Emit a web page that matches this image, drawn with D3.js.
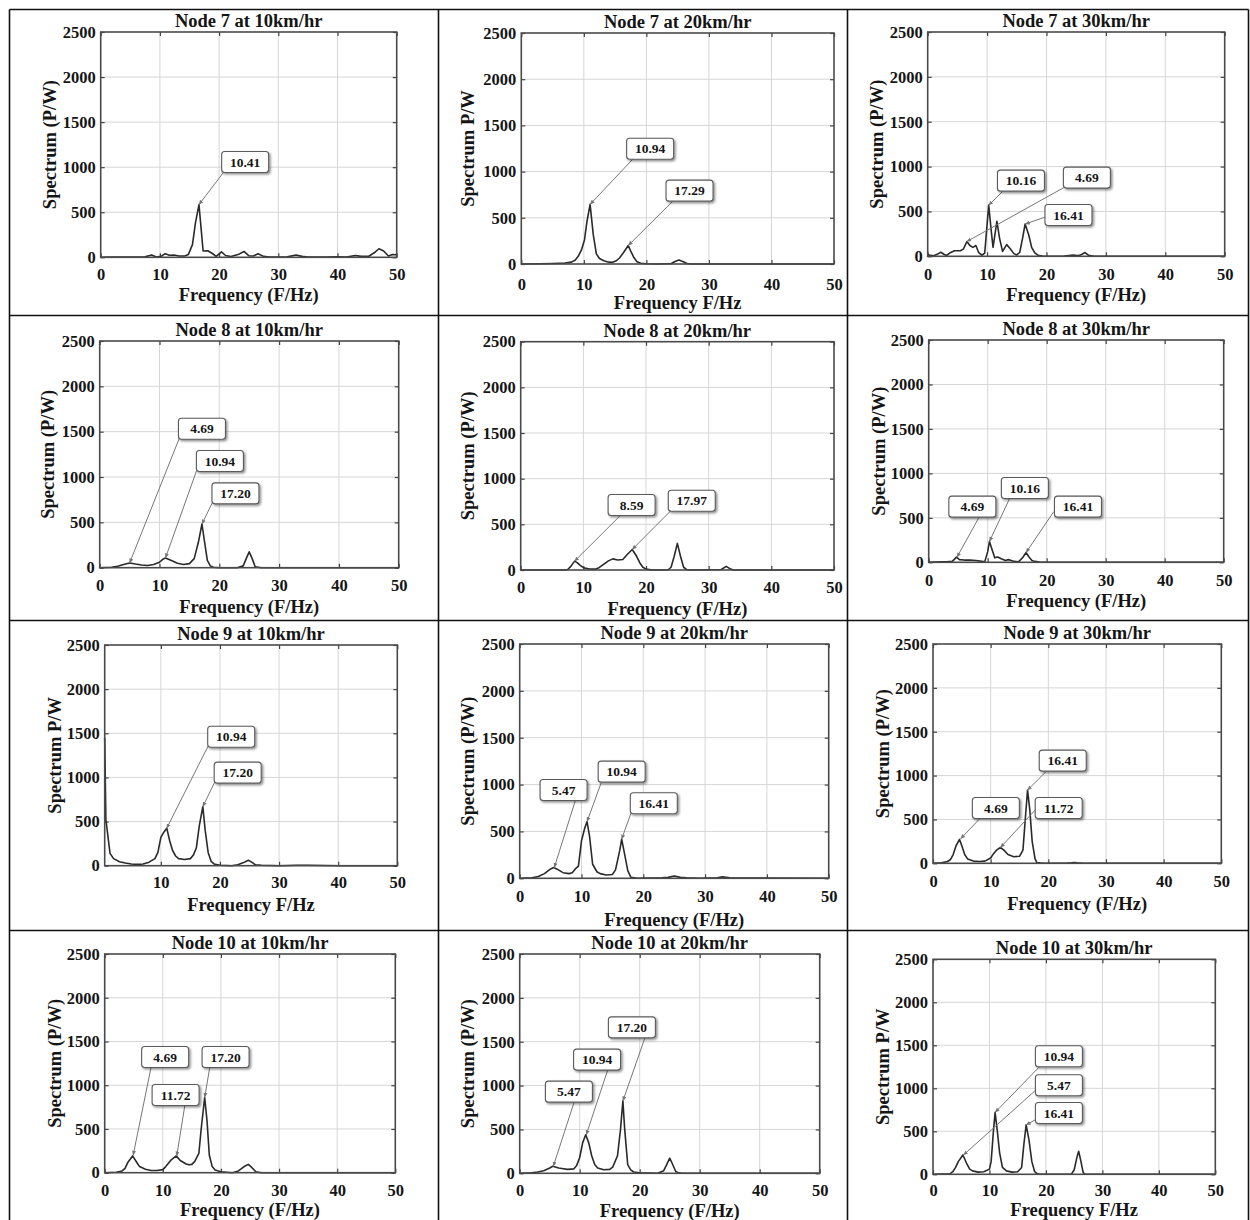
<!DOCTYPE html>
<html>
<head>
<meta charset="utf-8">
<script src="https://cdn.jsdelivr.net/npm/d3@7"></script>
<style>
  body { margin: 0; background: #fff; }
  svg text { font-family: "Liberation Serif", "Times New Roman", serif; font-weight: bold; fill: #151515; }
</style>
</head>
<body>
<svg id="fig" width="1250" height="1220"></svg>
<script>
// ---- categories and axis ticks ----
const nodes = ["Node 7", "Node 8", "Node 9", "Node 10"];
const speeds = ["10km/hr", "20km/hr", "30km/hr"];
const freqTicks = [0, 10, 20, 30, 40, 50];
const powerTicks = [0, 500, 1000, 1500, 2000, 2500];

const yTitles = [
  "Spectrum (P/W)", "Spectrum P/W", "Spectrum (P/W)",
  "Spectrum (P/W)", "Spectrum (P/W)", "Spectrum (P/W)",
  "Spectrum P/W", "Spectrum (P/W)", "Spectrum (P/W)",
  "Spectrum (P/W)", "Spectrum (P/W)", "Spectrum P/W"
];
const xTitles = [
  "Frequency (F/Hz)", "Frequency F/Hz", "Frequency (F/Hz)",
  "Frequency (F/Hz)", "Frequency (F/Hz)", "Frequency (F/Hz)",
  "Frequency F/Hz", "Frequency (F/Hz)", "Frequency (F/Hz)",
  "Frequency (F/Hz)", "Frequency (F/Hz)", "Frequency F/Hz"
];

// ---- spectra: [frequency Hz, spectrum P/W] ----
const node7_10 = [[0,0],[2,2],[4,3],[6,2],[7.5,5],[8.6,25],[9.4,3],[10.2,10],[10.9,40],[11.6,22],[12.4,25],[13.2,15],[14.2,15],[14.8,30],[15.5,140],[16.0,380],[16.6,585],[17.3,70],[18.1,72],[18.8,45],[19.5,10],[20.4,60],[21.1,20],[22.0,8],[23.2,30],[24.2,65],[25.0,18],[25.8,15],[26.6,40],[27.5,10],[28.5,3],[30,2],[31.5,5],[33,25],[34,10],[35,3],[38,2],[40,5],[41.5,2],[43,20],[44,10],[45.3,12],[46.2,50],[47,95],[47.8,70],[48.6,15],[49.3,30],[50,28]];
const node7_20 = [[0,0],[3,2],[5,5],[7,10],[8,20],[8.6,40],[9.1,83],[9.6,150],[10.1,260],[10.5,460],[11.0,645],[11.5,320],[12.0,110],[12.5,60],[13.2,35],[14.0,20],[14.6,18],[15.2,35],[15.7,65],[16.2,110],[16.7,160],[17.1,200],[17.5,140],[18.0,70],[18.5,25],[19.1,8],[20,2],[22,0],[24,5],[24.5,25],[25.2,42],[25.9,25],[26.5,5],[27.2,0],[35,0],[50,0]];
const node7_30 = [[0,20],[0.5,10],[1,5],[1.6,22],[2.2,45],[2.8,20],[3.2,10],[3.8,40],[4.5,62],[5.5,62],[6.0,80],[6.6,165],[7.1,120],[7.6,100],[8.1,120],[8.6,40],[9.1,12],[9.6,35],[10.27,570],[10.7,280],[11.0,100],[11.65,390],[12.1,200],[12.6,55],[13.3,130],[13.9,85],[14.5,30],[15.0,15],[15.5,45],[16.0,210],[16.4,360],[17.0,240],[17.5,100],[18.0,40],[18.6,10],[19.3,3],[20,0],[23,2],[24.5,15],[25.1,8],[25.6,10],[26.5,42],[27.1,10],[28,0],[50,0]];
const node8_10 = [[0,0],[2,5],[3,15],[4,35],[5,52],[6,40],[7,30],[8,25],[9,35],[10,60],[10.5,90],[11,108],[12,80],[13,50],[14,35],[15,45],[15.8,100],[16.5,280],[17.1,482],[17.5,300],[18,80],[18.5,20],[19,5],[20,0],[23,0],[24,20],[24.5,100],[25,175],[25.5,100],[26,10],[27,0],[50,0]];
const node8_20 = [[0,0],[7,0],[7.5,5],[8,40],[8.6,97],[9,80],[9.5,50],[10,25],[11,10],[12,10],[12.5,25],[13,50],[14,100],[14.7,122],[15.5,110],[16.3,115],[17,170],[17.8,225],[18.5,150],[19,80],[19.5,30],[20,10],[21,0],[23.5,0],[24,30],[24.5,150],[25,292],[25.5,150],[26,30],[26.5,5],[27,0],[32,5],[32.8,40],[33.5,10],[34,0],[50,0]];
const node8_30 = [[0,0],[2,5],[3,5],[4,10],[4.3,30],[4.7,58],[5.2,30],[6,25],[7,25],[8,20],[9,10],[9.5,5],[10,120],[10.3,235],[10.8,130],[11.2,50],[11.7,60],[12.3,40],[13,20],[13.5,30],[14,20],[14.5,10],[15.2,5],[15.6,30],[16,60],[16.5,110],[17,60],[17.5,20],[18,10],[19,0],[50,0]];
const node9_10 = [[0.5,1450],[0.7,520],[1.0,360],[1.4,140],[2,80],[3,45],[4,30],[5,20],[6,15],[7,20],[8,40],[9,80],[9.5,150],[10,320],[10.5,380],[11,425],[11.5,280],[12,170],[12.5,110],[13,80],[14,70],[15,80],[15.5,120],[16,200],[16.5,450],[17.1,670],[17.5,400],[18,150],[18.5,50],[19,20],[20,5],[22,0],[23,10],[24,35],[24.8,62],[25.5,35],[26,10],[27,5],[30,0],[33,5],[35,5],[40,0],[50,0]];
const node9_20 = [[0,0],[2,5],[3,20],[4,50],[5,100],[5.5,115],[6,100],[7,60],[8,50],[8.5,60],[9,100],[9.5,130],[10,400],[10.5,530],[10.9,605],[11.3,450],[11.8,150],[12.5,70],[13,50],[14,35],[15,40],[15.5,90],[16.2,300],[16.5,418],[17,250],[17.5,80],[18,10],[19,0],[23,5],[24,10],[25,25],[26,10],[27,5],[29,0],[32,5],[32.8,15],[34,5],[50,0]];
const node9_30 = [[0,0],[1.5,5],[2.5,20],[3,40],[3.5,100],[4,200],[4.6,272],[5,200],[5.5,100],[6,50],[7,25],[8,20],[9,25],[10,60],[10.5,110],[11,150],[11.7,180],[12.3,150],[13,100],[14,75],[15,80],[15.6,150],[16,500],[16.4,835],[16.8,600],[17.2,250],[17.7,50],[18,10],[19,0],[23,0],[24,5],[24.5,10],[25,5],[26,0],[50,0]];
const node10_10 = [[0,0],[2,5],[3,20],[3.5,50],[4,120],[4.8,192],[5.5,120],[6,70],[7,40],[8,25],[9,25],[10,35],[10.5,70],[11,110],[11.5,150],[12.3,192],[13,140],[14,100],[14.5,90],[15,95],[15.5,130],[16.2,220],[16.6,500],[17.2,860],[17.6,600],[18,200],[18.5,70],[19,30],[20,10],[22,0],[23,20],[24,70],[24.7,95],[25.3,60],[26,10],[27,0],[50,0]];
const node10_20 = [[0,0],[2,5],[3,15],[4,30],[5,60],[5.5,80],[6.5,60],[7,55],[8,45],[9,50],[9.5,90],[10,180],[10.5,350],[11,440],[11.5,350],[12,200],[12.5,100],[13,60],[14,40],[15,45],[15.5,70],[16.3,200],[16.8,500],[17.2,825],[17.5,500],[18,100],[18.5,40],[19,15],[20,5],[23,0],[24,30],[24.5,100],[25,172],[25.5,100],[26,20],[26.5,5],[27,0],[50,0]];
const node10_30 = [[0,0],[3,5],[3.5,30],[4,80],[4.5,150],[5.3,225],[6,120],[6.5,60],[7,40],[8,25],[9,30],[10,60],[10.3,150],[10.7,500],[11,720],[11.4,500],[11.8,250],[12.3,80],[13,40],[14,25],[15,30],[15.7,80],[16.1,350],[16.5,575],[17,400],[17.5,150],[18,30],[18.5,5],[19,0],[24.5,0],[25,50],[25.5,200],[25.8,268],[26.2,150],[26.6,20],[27,0],[50,0]];

// ---- peak callouts: label text and the [frequency, spectrum] point it marks ----
const notes7_10 = [{ text: "10.41", at: [16.6, 585] }];
const notes7_20 = [{ text: "10.94", at: [11.0, 645] }, { text: "17.29", at: [17.1, 200] }];
const notes7_30 = [{ text: "10.16", at: [10.27, 570] }, { text: "4.69", at: [6.6, 165] }, { text: "16.41", at: [16.4, 360] }];
const notes8_10 = [{ text: "4.69", at: [5.0, 52] }, { text: "10.94", at: [11.0, 108] }, { text: "17.20", at: [17.1, 482] }];
const notes8_20 = [{ text: "8.59", at: [8.6, 97] }, { text: "17.97", at: [17.8, 225] }];
const notes8_30 = [{ text: "4.69", at: [4.8, 58] }, { text: "10.16", at: [10.3, 235] }, { text: "16.41", at: [16.5, 110] }];
const notes9_10 = [{ text: "10.94", at: [11.0, 425] }, { text: "17.20", at: [17.1, 670] }];
const notes9_20 = [{ text: "5.47", at: [5.6, 115] }, { text: "10.94", at: [10.9, 605] }, { text: "16.41", at: [16.5, 418] }];
const notes9_30 = [{ text: "16.41", at: [16.4, 835] }, { text: "4.69", at: [4.8, 280] }, { text: "11.72", at: [11.7, 180] }];
const notes10_10 = [{ text: "4.69", at: [4.9, 200] }, { text: "17.20", at: [17.2, 860] }, { text: "11.72", at: [12.4, 192] }];
const notes10_20 = [{ text: "17.20", at: [17.2, 825] }, { text: "10.94", at: [11.1, 440] }, { text: "5.47", at: [5.6, 80] }];
const notes10_30 = [{ text: "10.94", at: [11.0, 720] }, { text: "5.47", at: [5.4, 225] }, { text: "16.41", at: [16.5, 575] }];

// ---- layout ----
// plot frame of each panel in page pixels, plus tick label / axis title placement
const frames = [
  { l: 100.7, t: 32,    r: 396.7,  b: 257.3,  tick: 274.7, xt: 294.7, yt: 49.7 },
  { l: 521.3, t: 33,    r: 834,    b: 264,    tick: 284.7, xt: 303,   yt: 467.3 },
  { l: 927.7, t: 32,    r: 1224.7, b: 256.3,  tick: 274.7, xt: 294.7, yt: 877 },
  { l: 99.7,  t: 341,   r: 398.7,  b: 567.7,  tick: 585,   xt: 606.7, yt: 48 },
  { l: 520.7, t: 341.7, r: 834,    b: 570,    tick: 587.7, xt: 609,   yt: 467.3 },
  { l: 928.7, t: 340,   r: 1223.7, b: 562.3,  tick: 580,   xt: 600.7, yt: 878.7 },
  { l: 104.7, t: 645,   r: 397.3,  b: 865.7,  tick: 882.7, xt: 904.3, yt: 54.7, xmin: 0.5 },
  { l: 519.7, t: 644,   r: 828.7,  b: 878.3,  tick: 896.7, xt: 920,   yt: 467.3 },
  { l: 933,   t: 644,   r: 1221.3, b: 863.3,  tick: 881,   xt: 903.3, yt: 883 },
  { l: 104.7, t: 954,   r: 395.3,  b: 1172.7, tick: 1190,  xt: 1210,  yt: 54.7 },
  { l: 519.7, t: 954,   r: 819.7,  b: 1173.3, tick: 1190,  xt: 1210.7, yt: 467.3 },
  { l: 933,   t: 959.3, r: 1215.3, b: 1174.3, tick: 1190,  xt: 1210,  yt: 883 }
];
// callout box centre and leader start, in axis units of the panel
const calloutPlaces = [
  [{ box: [24.4, 1058], tail: [20.8, 947] }],
  [{ box: [20.6, 1248], tail: [17.9, 1140] }, { box: [26.9, 794], tail: [24.3, 685] }],
  [{ box: [15.7, 843], tail: [12.8, 735] }, { box: [26.8, 877], tail: [22.9, 765] }, { box: [23.7, 461], tail: [19.9, 440] }],
  [{ box: [17.1, 1533], tail: [13.3, 1425] }, { box: [20.1, 1176], tail: [16.2, 1070] }, { box: [22.7, 820], tail: [18.8, 712] }],
  [{ box: [17.7, 712], tail: [15.8, 590] }, { box: [27.3, 759], tail: [24.0, 652] }],
  [{ box: [7.4, 626], tail: [8.6, 515] }, { box: [16.3, 836], tail: [13.8, 730] }, { box: [25.3, 626], tail: [21.2, 570] }],
  [{ box: [21.9, 1461], tail: [18.0, 1356] }, { box: [23.0, 1054], tail: [19.1, 945] }],
  [{ box: [7.1, 942], tail: [9.0, 830] }, { box: [16.5, 1138], tail: [13.2, 1022] }, { box: [21.7, 800], tail: [18.0, 695] }],
  [{ box: [22.5, 1170], tail: [19.8, 1058] }, { box: [10.9, 631], tail: [8.2, 515] }, { box: [21.8, 631], tail: [17.9, 620] }],
  [{ box: [10.4, 1322], tail: [8.0, 1212] }, { box: [20.8, 1322], tail: [18.1, 1212] }, { box: [12.2, 888], tail: [13.8, 774] }],
  [{ box: [18.7, 1664], tail: [20.9, 1550] }, { box: [12.9, 1296], tail: [14.7, 1185] }, { box: [8.2, 931], tail: [9.1, 817] }],
  [{ box: [22.3, 1372], tail: [19.0, 1260] }, { box: [22.3, 1035], tail: [18.3, 985] }, { box: [22.3, 713], tail: [18.3, 640] }]
];

const seriesList = [node7_10, node7_20, node7_30, node8_10, node8_20, node8_30,
                    node9_10, node9_20, node9_30, node10_10, node10_20, node10_30];
const notesList = [notes7_10, notes7_20, notes7_30, notes8_10, notes8_20, notes8_30,
                   notes9_10, notes9_20, notes9_30, notes10_10, notes10_20, notes10_30];

const svg = d3.select("#fig");
const plain = d3.format("d");

// arrowhead used at the end of each callout leader
const defs = svg.append("defs");
defs.append("marker")
  .attr("id", "tipHead")
  .attr("viewBox", "0 0 10 10")
  .attr("refX", 9).attr("refY", 5)
  .attr("markerWidth", 5).attr("markerHeight", 5)
  .attr("orient", "auto")
  .append("path")
  .attr("d", "M0,1 L10,5 L0,9 z")
  .attr("fill", "#777");

// shadow for callout boxes
defs.append("filter").attr("id", "boxShadow")
  .attr("x", "-20%").attr("y", "-20%").attr("width", "150%").attr("height", "160%")
  .append("feDropShadow").attr("dx", 1.5).attr("dy", 1.5).attr("stdDeviation", 1.2)
  .attr("flood-color", "#000").attr("flood-opacity", 0.45);

seriesList.forEach((data, i) => {
  const f = frames[i];
  const row = Math.floor(i / 3), col = i % 3;
  const xmin = f.xmin ?? 0;
  const x = d3.scaleLinear().domain([xmin, 50]).range([f.l, f.r]);
  const y = d3.scaleLinear().domain([0, 2500]).range([f.b, f.t]);
  const xt = freqTicks.filter(v => v >= xmin);
  const g = svg.append("g");

  // grid
  g.append("g").selectAll("line").data(xt.filter(v => v > xmin && v < 50)).join("line")
    .attr("x1", d => x(d)).attr("x2", d => x(d)).attr("y1", f.t).attr("y2", f.b)
    .attr("stroke", "#d6d6d6").attr("stroke-width", 1);
  g.append("g").selectAll("line").data(powerTicks.filter(v => v > 0 && v < 2500)).join("line")
    .attr("x1", f.l).attr("x2", f.r).attr("y1", d => y(d)).attr("y2", d => y(d))
    .attr("stroke", "#d6d6d6").attr("stroke-width", 1);

  // axes with inward ticks on all four sides
  const pad = f.tick - f.b - 6;
  const ax = g.append("g").attr("transform", `translate(0,${f.b})`)
    .call(d3.axisBottom(x).tickValues(xt).tickFormat(plain)
      .tickSizeInner(-4).tickSizeOuter(0).tickPadding(pad));
  const ay = g.append("g").attr("transform", `translate(${f.l},0)`)
    .call(d3.axisLeft(y).tickValues(powerTicks).tickFormat(plain)
      .tickSizeInner(-4).tickSizeOuter(0).tickPadding(5));
  g.append("g").attr("transform", `translate(0,${f.t})`)
    .call(d3.axisTop(x).tickValues(xt).tickSizeInner(-4).tickSizeOuter(0).tickFormat(""));
  g.append("g").attr("transform", `translate(${f.r},0)`)
    .call(d3.axisRight(y).tickValues(powerTicks).tickSizeInner(-4).tickSizeOuter(0).tickFormat(""));
  g.selectAll(".domain").remove();
  g.selectAll(".tick line").attr("stroke", "#444").attr("stroke-width", 1.2);
  [ax, ay].forEach(a => a.attr("font-family", null).attr("font-size", null)
    .selectAll("text").attr("font-size", 16.5).attr("fill", "#151515"));

  // spectrum curve
  g.append("path").datum(data)
    .attr("d", d3.line().x(d => x(d[0])).y(d => y(d[1])))
    .attr("fill", "none").attr("stroke", "#2a2a2a").attr("stroke-width", 1.6)
    .attr("stroke-linejoin", "round");

  // plot frame
  g.append("rect").attr("x", f.l).attr("y", f.t)
    .attr("width", f.r - f.l).attr("height", f.b - f.t)
    .attr("fill", "none").attr("stroke", "#4a4a4a").attr("stroke-width", 1.6);

  // title and axis titles
  g.append("text").attr("x", (f.l + f.r) / 2).attr("y", f.t - 11.5).attr("dy", "0.35em")
    .attr("text-anchor", "middle").attr("font-size", 18.5)
    .text(`${nodes[row]} at ${speeds[col]}`);
  g.append("text").attr("x", (f.l + f.r) / 2).attr("y", f.xt).attr("dy", "0.35em")
    .attr("text-anchor", "middle").attr("font-size", 18.5).text(xTitles[i]);
  g.append("text")
    .attr("transform", `translate(${f.yt},${(f.t + f.b) / 2}) rotate(-90)`)
    .attr("dy", "0.35em").attr("text-anchor", "middle").attr("font-size", 18.5)
    .text(yTitles[i]);

  // peak callouts
  notesList[i].forEach((n, k) => {
    const p = calloutPlaces[i][k];
    g.append("line")
      .attr("x1", x(p.tail[0])).attr("y1", y(p.tail[1]))
      .attr("x2", x(n.at[0])).attr("y2", y(n.at[1]))
      .attr("stroke", "#777").attr("stroke-width", 1)
      .attr("marker-end", "url(#tipHead)");
    const bw = 47, bh = 21;
    const cx = x(p.box[0]), cy = y(p.box[1]);
    g.append("rect").attr("x", cx - bw / 2).attr("y", cy - bh / 2)
      .attr("width", bw).attr("height", bh).attr("rx", 3)
      .attr("fill", "#fff").attr("stroke", "#5a5a5a").attr("stroke-width", 1.1)
      .attr("filter", "url(#boxShadow)");
    g.append("text").attr("x", cx).attr("y", cy).attr("dy", "0.35em")
      .attr("text-anchor", "middle").attr("font-size", 13.5).attr("fill", "#222")
      .text(n.text);
  });
});

// table rules separating the panels
const colRules = [9.5, 438.5, 847.5, 1248.5];
const rowRules = [9.5, 315.5, 620.5, 930.5];
svg.append("g").selectAll("line").data(colRules).join("line")
  .attr("x1", d => d).attr("x2", d => d).attr("y1", 9.5).attr("y2", 1220)
  .attr("stroke", "#111").attr("stroke-width", 1.6);
svg.append("g").selectAll("line").data(rowRules).join("line")
  .attr("x1", 9.5).attr("x2", 1248.5).attr("y1", d => d).attr("y2", d => d)
  .attr("stroke", "#111").attr("stroke-width", 1.6);
</script>
</body>
</html>
